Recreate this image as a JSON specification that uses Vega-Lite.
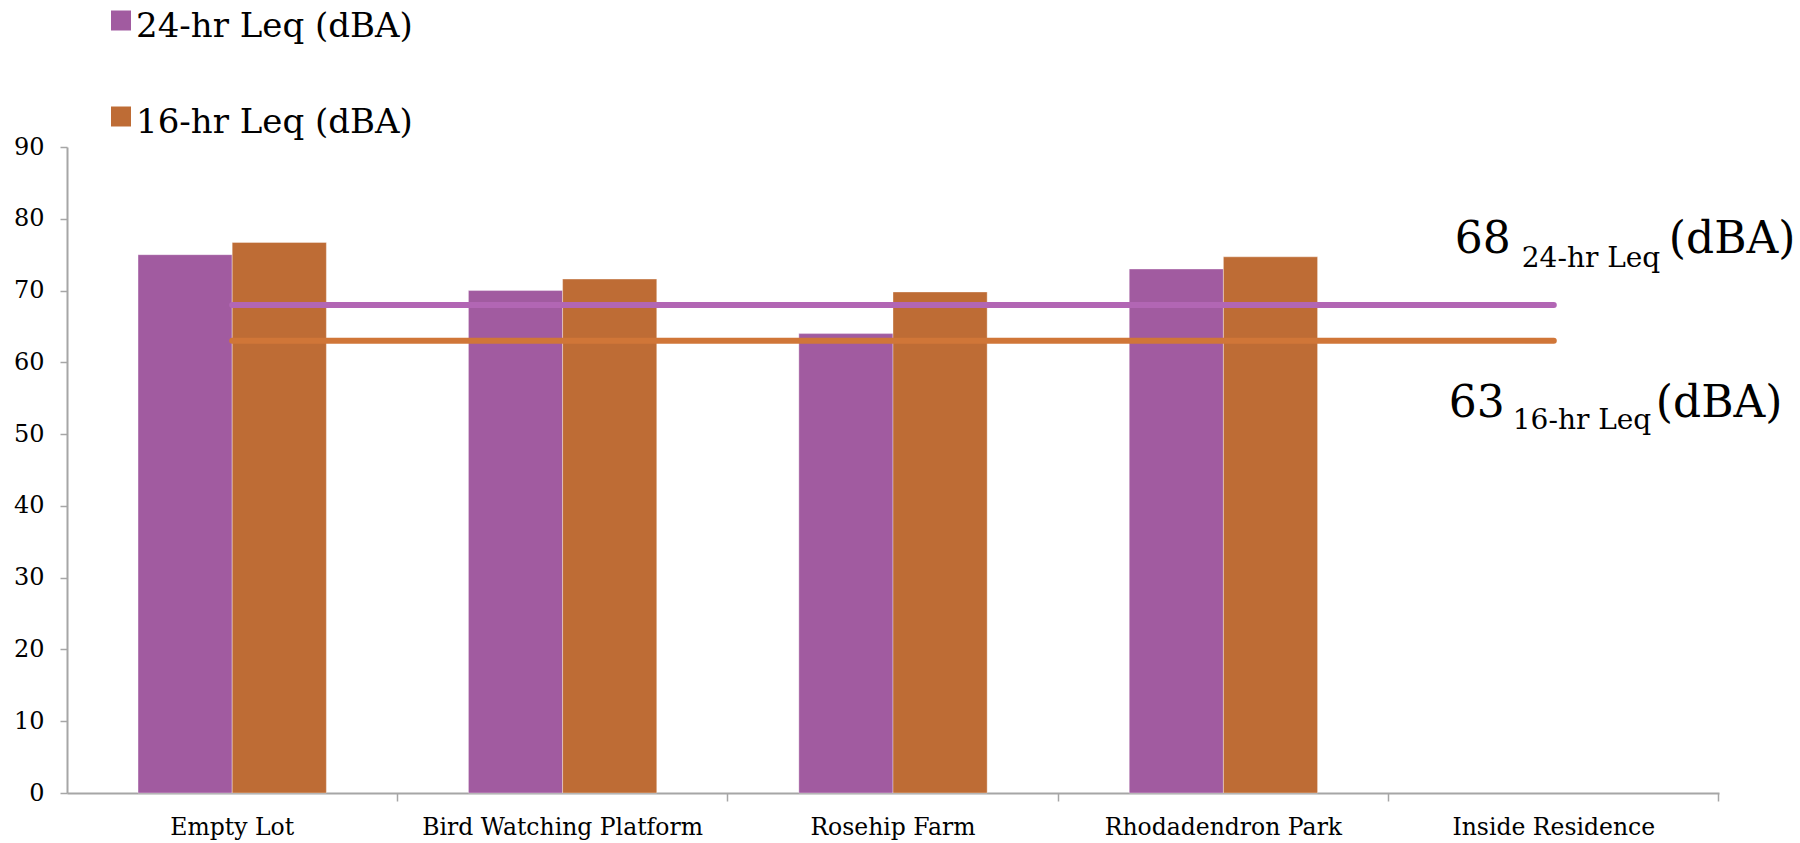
{
  "$schema": "https://vega.github.io/schema/vega-lite/v6.json",
  "width": 1652,
  "height": 646,
  "autosize": {"type": "none"},
  "padding": {"left": 67, "top": 147, "right": 81, "bottom": 50},
  "background": "white",
  "config": {
    "view": {"stroke": null},
    "font": "DejaVu Serif",
    "axis": {"labelFont": "DejaVu Serif", "labelColor": "#000000", "grid": false}
  },
  "datasets": {
    "levels": [
      {"site": "Empty Lot", "series": "24-hr Leq (dBA)", "leq": 75},
      {"site": "Empty Lot", "series": "16-hr Leq (dBA)", "leq": 76.7},
      {"site": "Bird Watching Platform", "series": "24-hr Leq (dBA)", "leq": 70},
      {"site": "Bird Watching Platform", "series": "16-hr Leq (dBA)", "leq": 71.6},
      {"site": "Rosehip Farm", "series": "24-hr Leq (dBA)", "leq": 64},
      {"site": "Rosehip Farm", "series": "16-hr Leq (dBA)", "leq": 69.8},
      {"site": "Rhodadendron Park", "series": "24-hr Leq (dBA)", "leq": 73},
      {"site": "Rhodadendron Park", "series": "16-hr Leq (dBA)", "leq": 74.7}
    ],
    "limits": [
      {"series": "24-hr Leq (dBA)", "limit": 68, "value": "68", "period": "24-hr Leq", "unit": "(dBA)"},
      {"series": "16-hr Leq (dBA)", "limit": 63, "value": "63", "period": "16-hr Leq", "unit": "(dBA)"}
    ]
  },
  "layer": [
    {
      "data": {"name": "levels"},
      "mark": {"type": "bar", "stroke": "#ffffff", "strokeOpacity": 0.35, "strokeWidth": 1},
      "encoding": {
        "x": {
          "field": "site", "type": "nominal", "title": null,
          "scale": {"domain": ["Empty Lot", "Bird Watching Platform", "Rosehip Farm", "Rhodadendron Park", "Inside Residence"], "paddingInner": 0.43, "paddingOuter": 0.215},
          "axis": {"orient": "bottom", "labelAngle": 0, "ticks": false, "domain": false, "labelFontSize": 23.5, "labelPadding": 22, "labelLimit": 600}
        },
        "xOffset": {"field": "series", "type": "nominal", "scale": {"domain": ["24-hr Leq (dBA)", "16-hr Leq (dBA)"]}},
        "y": {
          "field": "leq", "type": "quantitative", "title": null,
          "scale": {"domain": [0, 90], "nice": false},
          "axis": {"values": [0, 10, 20, 30, 40, 50, 60, 70, 80, 90], "tickSize": 7, "tickColor": "#A6A6A6", "tickWidth": 1.5, "domainColor": "#A6A6A6", "domainWidth": 2, "labelFontSize": 24, "labelPadding": 16}
        },
        "color": {
          "field": "series", "type": "nominal",
          "scale": {"domain": ["24-hr Leq (dBA)", "16-hr Leq (dBA)"], "range": ["#A15BA0", "#BE6C35"]},
          "legend": {
            "orient": "none", "legendX": 37, "legendY": -137, "title": null, "direction": "vertical",
            "symbolType": "M-1,-1.65H1V0.35H-1Z", "symbolSize": 400, "symbolStrokeWidth": 0,
            "labelFontSize": 34, "labelFont": "DejaVu Serif", "labelColor": "#000000",
            "rowPadding": 62, "labelOffset": -2, "padding": 0, "labelLimit": 600
          }
        }
      }
    },
    {
      "data": {"name": "limits"},
      "mark": {"type": "rule", "strokeWidth": 6, "strokeCap": "round"},
      "encoding": {
        "x": {"datum": "Empty Lot", "type": "nominal", "axis": {"orient": "bottom", "title": null, "labels": false, "ticks": true, "tickSize": 8, "tickColor": "#A6A6A6", "tickWidth": 1.5, "bandPosition": 1.377, "domain": true, "domainColor": "#A6A6A6", "domainWidth": 2}},
        "x2": {"datum": "Inside Residence"},
        "y": {"field": "limit", "type": "quantitative", "title": null},
        "stroke": {"field": "series", "type": "nominal", "scale": {"domain": ["24-hr Leq (dBA)", "16-hr Leq (dBA)"], "range": ["#B266B4", "#D07638"]}, "legend": null}
      }
    },
    {
      "data": {"name": "limits"},
      "transform": [{"filter": {"field": "series", "equal": "24-hr Leq (dBA)"}}],
      "mark": {"type": "text", "align": "left", "baseline": "alphabetic", "fontSize": 44, "dx": -99, "dy": -52, "font": "DejaVu Serif", "color": "#000000"},
      "encoding": {"x": {"datum": "Inside Residence", "type": "nominal", "axis": null}, "y": {"field": "limit", "type": "quantitative", "title": null}, "text": {"field": "value"}}
    },
    {
      "data": {"name": "limits"},
      "transform": [{"filter": {"field": "series", "equal": "24-hr Leq (dBA)"}}],
      "mark": {"type": "text", "align": "left", "baseline": "alphabetic", "fontSize": 28, "dx": -32, "dy": -38, "font": "DejaVu Serif", "color": "#000000"},
      "encoding": {"x": {"datum": "Inside Residence", "type": "nominal", "axis": null}, "y": {"field": "limit", "type": "quantitative", "title": null}, "text": {"field": "period"}}
    },
    {
      "data": {"name": "limits"},
      "transform": [{"filter": {"field": "series", "equal": "24-hr Leq (dBA)"}}],
      "mark": {"type": "text", "align": "left", "baseline": "alphabetic", "fontSize": 44, "dx": 115, "dy": -52, "font": "DejaVu Serif", "color": "#000000"},
      "encoding": {"x": {"datum": "Inside Residence", "type": "nominal", "axis": null}, "y": {"field": "limit", "type": "quantitative", "title": null}, "text": {"field": "unit"}}
    },
    {
      "data": {"name": "limits"},
      "transform": [{"filter": {"field": "series", "equal": "16-hr Leq (dBA)"}}],
      "mark": {"type": "text", "align": "left", "baseline": "alphabetic", "fontSize": 44, "dx": -105, "dy": 76, "font": "DejaVu Serif", "color": "#000000"},
      "encoding": {"x": {"datum": "Inside Residence", "type": "nominal", "axis": null}, "y": {"field": "limit", "type": "quantitative", "title": null}, "text": {"field": "value"}}
    },
    {
      "data": {"name": "limits"},
      "transform": [{"filter": {"field": "series", "equal": "16-hr Leq (dBA)"}}],
      "mark": {"type": "text", "align": "left", "baseline": "alphabetic", "fontSize": 28, "dx": -41, "dy": 88, "font": "DejaVu Serif", "color": "#000000"},
      "encoding": {"x": {"datum": "Inside Residence", "type": "nominal", "axis": null}, "y": {"field": "limit", "type": "quantitative", "title": null}, "text": {"field": "period"}}
    },
    {
      "data": {"name": "limits"},
      "transform": [{"filter": {"field": "series", "equal": "16-hr Leq (dBA)"}}],
      "mark": {"type": "text", "align": "left", "baseline": "alphabetic", "fontSize": 44, "dx": 102, "dy": 76, "font": "DejaVu Serif", "color": "#000000"},
      "encoding": {"x": {"datum": "Inside Residence", "type": "nominal", "axis": null}, "y": {"field": "limit", "type": "quantitative", "title": null}, "text": {"field": "unit"}}
    }
  ],
  "resolve": {"axis": {"x": "independent"}}
}
